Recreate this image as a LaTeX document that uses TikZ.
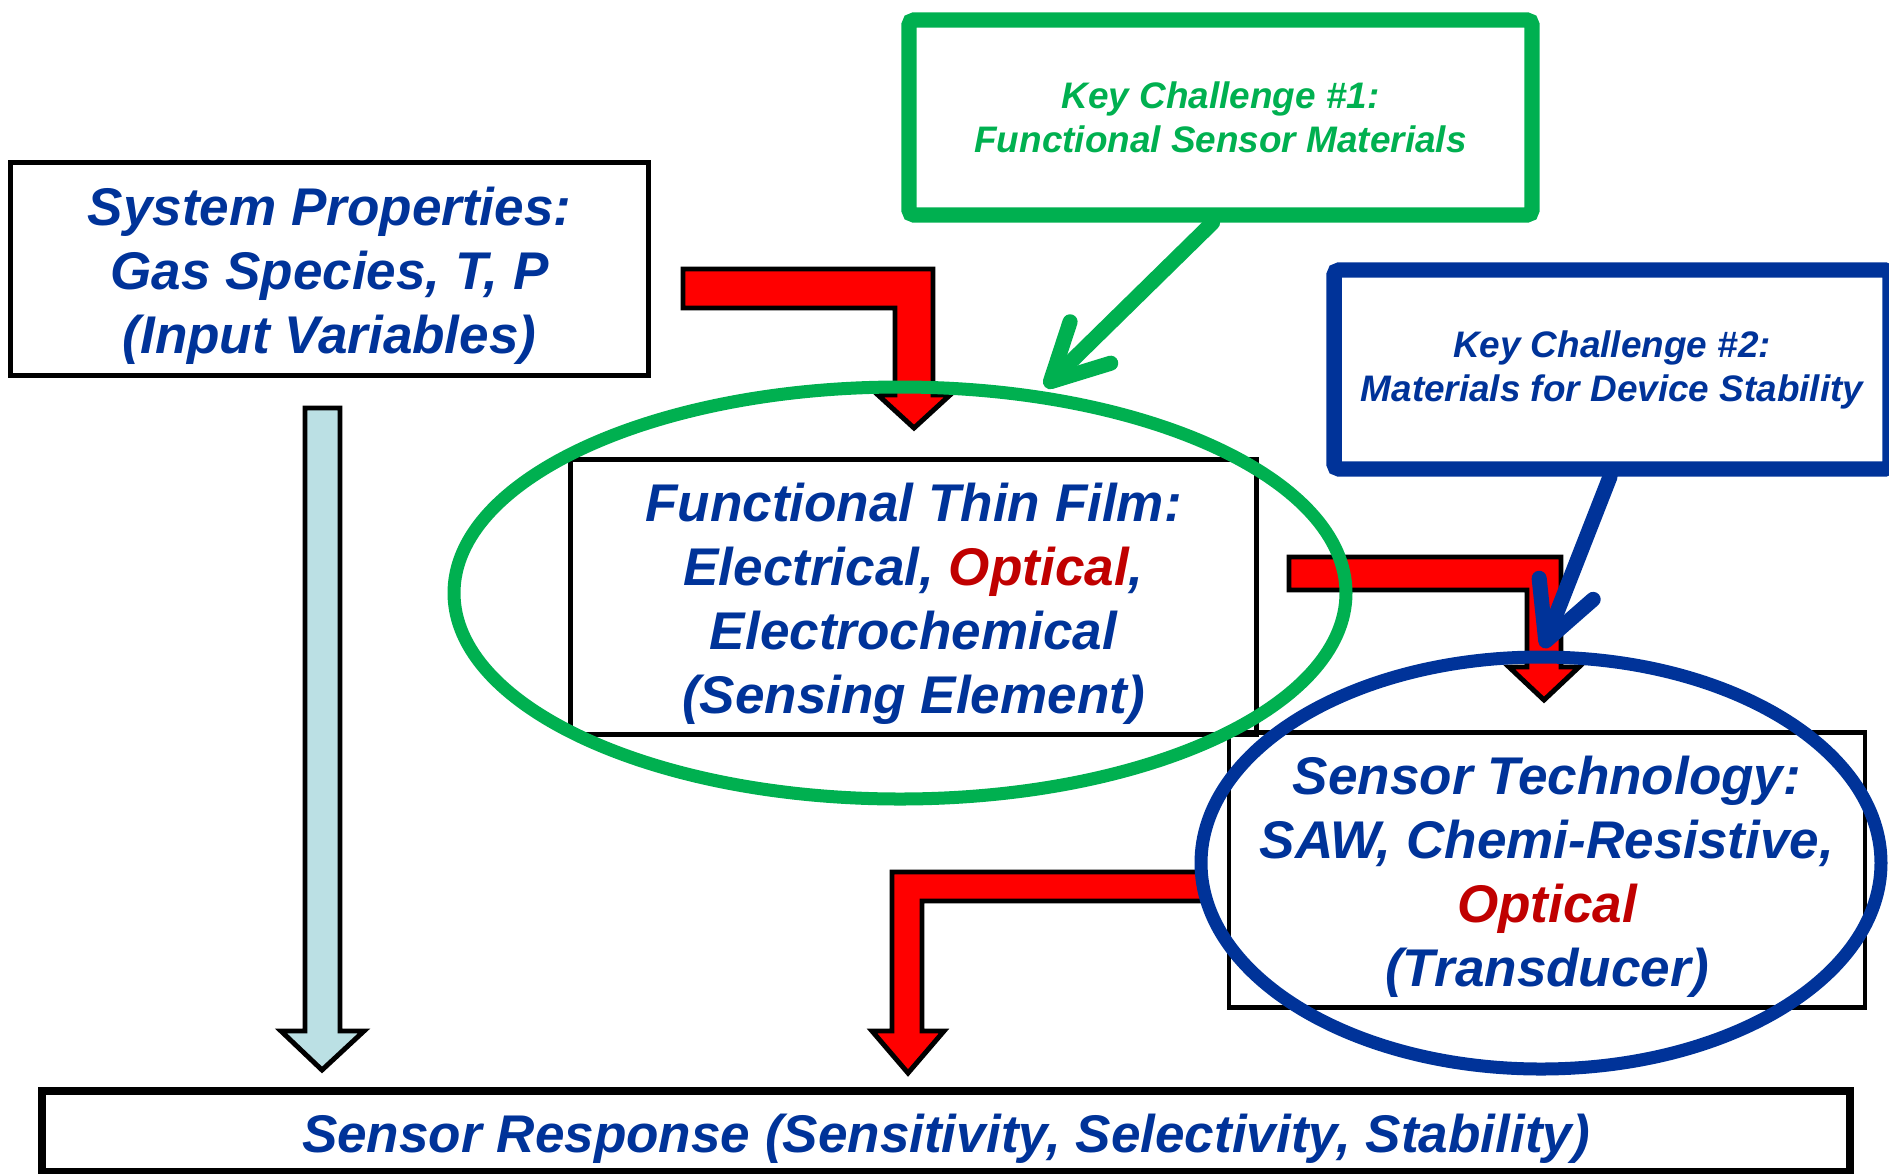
\documentclass[tikz,border=0pt]{standalone}
\usepackage{fontspec}
\setmainfont{Liberation Sans}
\usetikzlibrary{arrows.meta}
\definecolor{darkblue}{RGB}{0,51,153}
\definecolor{darkred}{RGB}{192,0,0}
\definecolor{keygreen}{RGB}{0,176,80}
\definecolor{paleblue}{RGB}{187,224,228}
\newcommand{\topstrut}{\rule{0pt}{15pt}}
\begin{document}
\begin{tikzpicture}[x=0.1mm, y=-0.1mm,
                    every node/.style={align=center, inner sep=0pt, text=darkblue},
                    bigtext/.style={font=\fontsize{15.1}{18.2}\selectfont\bfseries\itshape},
                    smalltext/.style={font=\fontsize{10.5}{12.5}\selectfont\bfseries\itshape},
                    blackbox/.style={draw=black, line width=1.4pt, bigtext},
                    redblock/.style={draw=black, line width=1.4pt, fill=red},
                    keybox/.style={line width=4.4pt, rounded corners=1.5pt, smalltext},
                    keyarrow/.style={line width=4.3pt, line cap=round,
                                     -{Straight Barb[length=5.6mm, width=5.8mm, round]}}]
  \useasboundingbox (0,0) rectangle (1889,1173);
  \clip (0,0) rectangle (1889,1173);
  % boxes
  \node[blackbox, minimum width=63.8mm, minimum height=21.3mm] (system_properties) at (329.5,269)
    {\topstrut System Properties:\\Gas Species, T, P\\(Input Variables)};
  \node[blackbox, minimum width=68.6mm, minimum height=27.5mm] (thin_film) at (913.5,597)
    {\topstrut Functional Thin Film:\\Electrical, {\color{darkred}Optical},\\Electrochemical\\(Sensing Element)};
  \node[blackbox, minimum width=63.6mm, minimum height=27.5mm] (sensor_technology) at (1547,870)
    {\topstrut Sensor Technology:\\SAW, Chemi-Resistive,\\{\color{darkred}Optical}\\(Transducer)};
  \node[blackbox, line width=2.3pt, minimum width=180.8mm, minimum height=8.1mm] (sensor_response) at (946,1131.5)
    {\topstrut Sensor Response (Sensitivity, Selectivity, Stability)};
  % block arrows
  \draw[redblock] (683,269) -- (933,269) -- (933,395) -- (950,395) -- (914,428)
    -- (878,395) -- (895,395) -- (895,308) -- (683,308) -- cycle;
  \draw[redblock] (1289,557) -- (1561,557) -- (1561,667) -- (1579,667) -- (1544,700)
    -- (1509,667) -- (1527,667) -- (1527,590) -- (1289,590) -- cycle;
  \draw[redblock] (1203,872) -- (892,872) -- (892,1031) -- (872,1031) -- (908,1073)
    -- (944,1031) -- (922,1031) -- (922,901) -- (1203,901) -- cycle;
  \draw[redblock, fill=paleblue] (305,408) -- (340,408) -- (340,1031) -- (364,1031) -- (322,1070)
    -- (281,1031) -- (305,1031) -- cycle;
  % ellipses
  \draw[keygreen, line width=3.7pt] (900,593) ellipse [x radius=44.6mm, y radius=20.6mm];
  \draw[darkblue, line width=3.7pt] (1541,863) ellipse [x radius=34mm, y radius=20.6mm];
  % key challenges
  \node[keybox, draw=keygreen, text=keygreen, minimum width=62.3mm, minimum height=19.5mm] (key_challenge_1) at (1220.5,117.5)
    {Key Challenge \#1:\\Functional Sensor Materials};
  \node[keybox, draw=darkblue, minimum width=55.6mm, minimum height=19.9mm] (key_challenge_2) at (1612,369.5)
    {Key Challenge \#2:\\Materials for Device Stability};
  \coordinate (tip_1) at (1045,387);
  \coordinate (tip_2) at (1543,648);
  \draw[keyarrow, keygreen] ([xshift=-0.8mm]key_challenge_1.south) -- (tip_1);
  \draw[keyarrow, darkblue] ([xshift=-0.2mm]key_challenge_2.south) -- (tip_2);
\end{tikzpicture}
\end{document}
